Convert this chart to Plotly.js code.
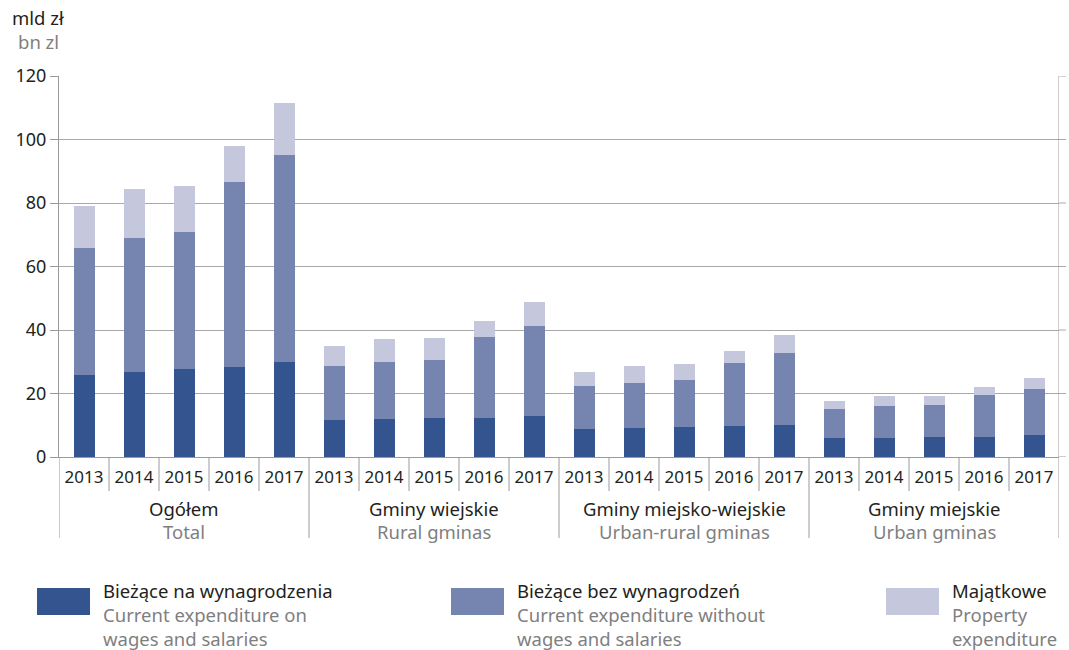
<!DOCTYPE html>
<html>
<head>
<meta charset="utf-8">
<script src="https://cdn.plot.ly/plotly-3.0.1.min.js"></script>
<style>html,body{margin:0;padding:0;background:#fff;}#chart{width:1069px;height:650px;}</style>
</head>
<body>
<div id="chart"></div>
<script>
// ---- data ----
var groupsPL = ["Ogółem", "Gminy wiejskie", "Gminy miejsko-wiejskie", "Gminy miejskie"];
var groupsEN = ["Total", "Rural gminas", "Urban-rural gminas", "Urban gminas"];
var years = ["2013", "2014", "2015", "2016", "2017"];
var yTicks = [0, 20, 40, 60, 80, 100, 120];

var wages = [
  25.8, 26.7, 27.7, 28.3, 29.9,
  11.6, 11.9, 12.2, 12.2, 12.9,
  8.7, 9.1, 9.4, 9.7, 10.0,
  5.9, 5.9, 6.2, 6.2, 6.8
];
var nonWages = [
  40.1, 42.4, 43.3, 58.4, 65.1,
  17.0, 18.0, 18.3, 25.6, 28.4,
  13.6, 14.2, 14.8, 19.9, 22.7,
  9.2, 10.1, 10.1, 13.3, 14.6
];
var property = [
  13.3, 15.4, 14.5, 11.1, 16.4,
  6.4, 7.3, 7.0, 5.1, 7.6,
  4.4, 5.3, 5.1, 3.8, 5.7,
  2.5, 3.2, 2.9, 2.5, 3.5
];

var seriesPL = ["Bieżące na wynagrodzenia", "Bieżące bez wynagrodzeń", "Majątkowe"];
var seriesEN = [["Current expenditure on", "wages and salaries"], ["Current expenditure without", "wages and salaries"], ["Property", "expenditure"]];
var colors = ["#33548e", "#7585af", "#c5c7dd"];

// ---- build ----
var xIdx = [], tickText = [];
for (var g = 0; g < groupsPL.length; g++) {
  for (var y = 0; y < years.length; y++) {
    xIdx.push(g * years.length + y);
    tickText.push(years[y]);
  }
}
var nSlots = xIdx.length;

var values = [wages, nonWages, property];
var traces = values.map(function (v, i) {
  return {
    type: "bar", x: xIdx, y: v, name: seriesPL[i],
    marker: {color: colors[i], line: {width: 0}},
    hoverinfo: "y"
  };
});

var FONT = "Noto Sans, Open Sans, sans-serif";
var DARK = "#231f20", GRAY = "#7f7f7f", LINE = "#9a9a9a";

var L = 59, R = 10, T = 76, B = 193;
var plotH = 650 - T - B;
function py(pix) { return (650 - B - pix) / plotH; } // pixel y -> paper y
function px(pix) { return (pix - L) / (1069 - L - R); } // pixel x -> paper x

var shapes = [];
var annotations = [];
// dividers
for (var k = 0; k <= nSlots; k++) {
  var isGroup = (k % years.length === 0);
  shapes.push({
    type: "line", xref: "x", yref: "paper",
    x0: k - 0.5, x1: k - 0.5,
    y0: (k === nSlots) ? 1 : 0,
    y1: isGroup ? py(538) : py(491),
    line: {color: LINE, width: 1}
  });
}
// gridline stubs extending past the right border
yTicks.forEach(function (t) {
  shapes.push({type: "line", xref: "paper", yref: "y", x0: 1, x1: px(1066), y0: t, y1: t,
    line: {color: t === 0 ? LINE : "#a8a8a8", width: 1}});
});
// group labels
for (var g2 = 0; g2 < groupsPL.length; g2++) {
  var cx = g2 * years.length + (years.length - 1) / 2;
  annotations.push({xref: "x", yref: "paper", x: cx, y: py(508), text: groupsPL[g2], showarrow: false,
    xanchor: "center", yanchor: "middle", font: {family: FONT, size: 18.5, color: DARK}});
  annotations.push({xref: "x", yref: "paper", x: cx, y: py(531), text: groupsEN[g2], showarrow: false,
    xanchor: "center", yanchor: "middle", font: {family: FONT, size: 18.5, color: GRAY}});
}
// unit label
annotations.push({xref: "paper", yref: "paper", x: px(10), y: py(18), text: "mld zł", showarrow: false,
  xanchor: "left", yanchor: "middle", font: {family: FONT, size: 18.5, color: DARK}});
annotations.push({xref: "paper", yref: "paper", x: px(16), y: py(41), text: "bn zl", showarrow: false,
  xanchor: "left", yanchor: "middle", font: {family: FONT, size: 18.5, color: GRAY}});

// legend (custom)
var swX = [37, 451, 886];
for (var s = 0; s < seriesPL.length; s++) {
  shapes.push({type: "rect", xref: "paper", yref: "paper",
    x0: px(swX[s]), x1: px(swX[s] + 53), y0: py(588), y1: py(615),
    fillcolor: colors[s], line: {width: 0}});
  var tx = px(swX[s] + 64);
  annotations.push({xref: "paper", yref: "paper", x: tx, y: py(590), text: seriesPL[s], showarrow: false,
    xanchor: "left", yanchor: "middle", font: {family: FONT, size: 18.5, color: DARK}});
  annotations.push({xref: "paper", yref: "paper", x: tx, y: py(614), text: seriesEN[s][0], showarrow: false,
    xanchor: "left", yanchor: "middle", font: {family: FONT, size: 18.5, color: GRAY}});
  annotations.push({xref: "paper", yref: "paper", x: tx, y: py(638), text: seriesEN[s][1], showarrow: false,
    xanchor: "left", yanchor: "middle", font: {family: FONT, size: 18.5, color: GRAY}});
}

var layout = {
  width: 1069, height: 650,
  margin: {l: L, r: R, t: T, b: B, pad: 0},
  paper_bgcolor: "#fff", plot_bgcolor: "#fff",
  barmode: "stack", bargap: 0.58,
  showlegend: false,
  font: {family: FONT, color: DARK},
  xaxis: {
    range: [-0.5, nSlots - 0.5], tickmode: "array", tickvals: xIdx, ticktext: tickText,
    showgrid: false, zeroline: false, showline: true, linecolor: LINE, linewidth: 1,
    ticks: "", ticklabelstandoff: 5, tickfont: {family: FONT, size: 17, color: DARK}, fixedrange: true
  },
  yaxis: {
    range: [0, 120], tickmode: "array", tickvals: yTicks,
    showgrid: true, gridcolor: "#a8a8a8", gridwidth: 1, zeroline: false,
    showline: true, linecolor: LINE, linewidth: 1,
    ticks: "outside", ticklen: 8, tickcolor: LINE, tickfont: {family: FONT, size: 18, color: DARK},
    fixedrange: true
  },
  shapes: shapes,
  annotations: annotations
};

Plotly.newPlot("chart", traces, layout, {displayModeBar: false, staticPlot: true});
</script>
</body>
</html>
